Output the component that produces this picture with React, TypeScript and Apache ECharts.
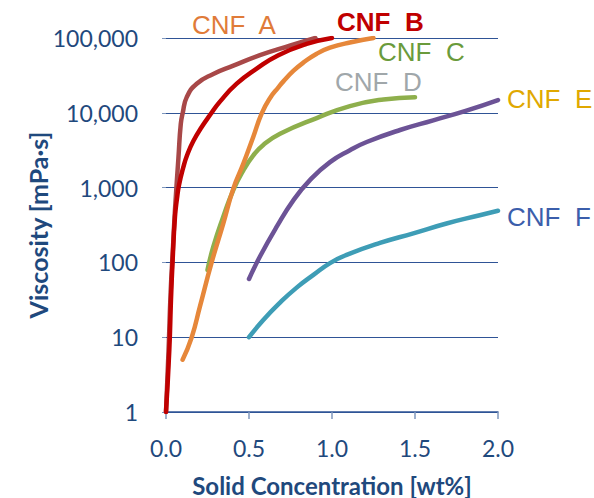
import React, { useEffect, useRef } from "react";
import * as echarts from "echarts";

// Solid concentration [wt%] and viscosity [mPa·s] per CNF grade
const xA = [0.0, 0.015, 0.028, 0.042, 0.054, 0.075, 0.089, 0.101, 0.125, 0.185, 0.285, 0.406, 0.566, 0.75, 0.9];
const yA = [1, 6.3, 40, 158, 501, 2510, 7080, 10000, 16200, 24500, 33100, 42700, 58900, 79400, 100000];

const xB = [0.0, 0.02, 0.03, 0.04, 0.054, 0.066, 0.078, 0.104, 0.128, 0.164, 0.215, 0.265, 0.325, 0.426, 0.546, 0.677, 0.847, 1.0];
const yB = [1, 6.8, 32, 107, 407, 708, 1070, 1860, 2750, 4170, 6460, 9330, 14100, 24500, 38900, 58900, 83200, 100000];

const xC = [0.1, 0.155, 0.205, 0.275, 0.345, 0.406, 0.466, 0.526, 0.576, 0.627, 0.677, 0.707, 0.767, 0.827, 0.908, 0.988, 1.108, 1.25];
const yC = [5, 10, 26, 100, 331, 977, 2090, 4790, 9770, 15800, 21900, 26300, 36300, 46800, 61700, 74100, 87100, 100000];

const xD = [0.25, 0.285, 0.345, 0.406, 0.466, 0.526, 0.586, 0.687, 0.908, 1.108, 1.31, 1.5];
const yD = [79, 162, 407, 933, 1700, 2690, 3720, 5250, 8510, 12300, 15100, 16200];

const xE = [0.5, 0.566, 0.667, 0.767, 0.867, 0.988, 1.108, 1.209, 1.41, 1.61, 1.81, 2.0];
const yE = [60, 120, 300, 676, 1260, 2190, 3160, 4070, 5890, 7940, 10700, 14800];

const xF = [0.5, 0.586, 0.687, 0.787, 0.888, 0.988, 1.088, 1.289, 1.49, 1.69, 1.89, 2.0];
const yF = [10, 17, 29, 46, 68, 98, 126, 182, 245, 331, 427, 490];

const seriesNames = ["CNF  A", "CNF  B", "CNF  C", "CNF  D", "CNF  E", "CNF  F"];
const xTickLabels = ["0.0", "0.5", "1.0", "1.5", "2.0"];

const pair = (xs: number[], ys: number[]) => xs.map((x, i) => [x, ys[i]]);

export default function App() {
  const ref = useRef<HTMLDivElement>(null);
  useEffect(() => {
    if (!ref.current) return;
    const chart = echarts.init(ref.current, null, { renderer: "svg" });
    const axisColor = "#2F5496";
    const textColor = "#1F497D";
    const mk = (name: string, data: number[][], color: string, z: number) => ({
      name,
      type: "line",
      data,
      smooth: 0.5,
      showSymbol: false,
      symbol: "none",
      z,
      lineStyle: { color, width: 4.5, cap: "round", join: "round" },
    });
    const labelFont = "'Liberation Sans', Arial, sans-serif";
    const lbl = (text: string, x: number, y: number, fill: string, bold = false) => ({
      type: "text",
      left: x,
      top: y - 13,
      style: {
        text,
        fill,
        font: `${bold ? "bold " : ""}26px ${labelFont}`,
      },
    });
    chart.setOption({
      animation: false,
      grid: { left: 166, right: 96, top: 38, bottom: 86, outerBoundsMode: "none", containLabel: false },
      xAxis: {
        type: "value",
        min: 0,
        max: 2,
        interval: 0.5,
        name: "Solid Concentration [wt%]",
        nameLocation: "middle",
        nameGap: 61,
        nameMoveOverlap: false,
        nameTextStyle: { color: textColor, fontFamily: "Lato", fontWeight: "bold", fontSize: 24 },
        axisLine: { show: true, lineStyle: { color: axisColor, width: 1.5 } },
        axisTick: { show: true, length: 7, lineStyle: { color: "#7F97BD", width: 1.5 } },
        splitLine: { show: false },
        axisLabel: {
          color: textColor,
          fontFamily: "Lato",
          fontSize: 23,
          margin: 24,
          formatter: (v: number) => xTickLabels[Math.round(v / 0.5)] ?? v.toFixed(1),
        },
      },
      yAxis: {
        type: "log",
        logBase: 10,
        min: 1,
        max: 100000,
        name: "Viscosity [mPa·s]",
        nameLocation: "middle",
        nameGap: 116,
        nameMoveOverlap: false,
        nameTextStyle: { color: textColor, fontFamily: "Lato", fontWeight: "bold", fontSize: 25 },
        axisLine: { show: false },
        axisTick: { show: true, length: 4, lineStyle: { color: "#7F97BD" } },
        minorTick: { show: false },
        splitLine: { show: true, lineStyle: { color: axisColor, width: 1.2 } },
        axisLabel: {
          color: textColor,
          fontFamily: "Lato",
          fontSize: 23,
          margin: 28,
          formatter: (v: number) => Math.round(v).toLocaleString("en-US"),
        },
      },
      series: [
        mk(seriesNames[3], pair(xD, yD), "#8EAF4C", 2),
        mk(seriesNames[0], pair(xA, yA), "#A84848", 2),
        mk(seriesNames[2], pair(xC, yC), "#E6873A", 3),
        mk(seriesNames[1], pair(xB, yB), "#C00000", 4),
        mk(seriesNames[4], pair(xE, yE), "#6C5396", 3),
        mk(seriesNames[5], pair(xF, yF), "#3E9DB6", 3),
      ],
      graphic: [
        lbl(seriesNames[0], 192, 25, "#E07B39"),
        lbl(seriesNames[1], 337, 22, "#C00000", true),
        lbl(seriesNames[2], 378, 52, "#6A9B3B"),
        lbl(seriesNames[3], 335, 82, "#A0A7AA"),
        lbl(seriesNames[4], 507, 99, "#E0A800"),
        lbl(seriesNames[5], 507, 217, "#3B5EAB"),
      ],
    });
    return () => chart.dispose();
  }, []);
  return (
    <div
      ref={ref}
      style={{ position: "fixed", left: 0, top: 0, width: 594, height: 498, background: "#fff" }}
    />
  );
}
